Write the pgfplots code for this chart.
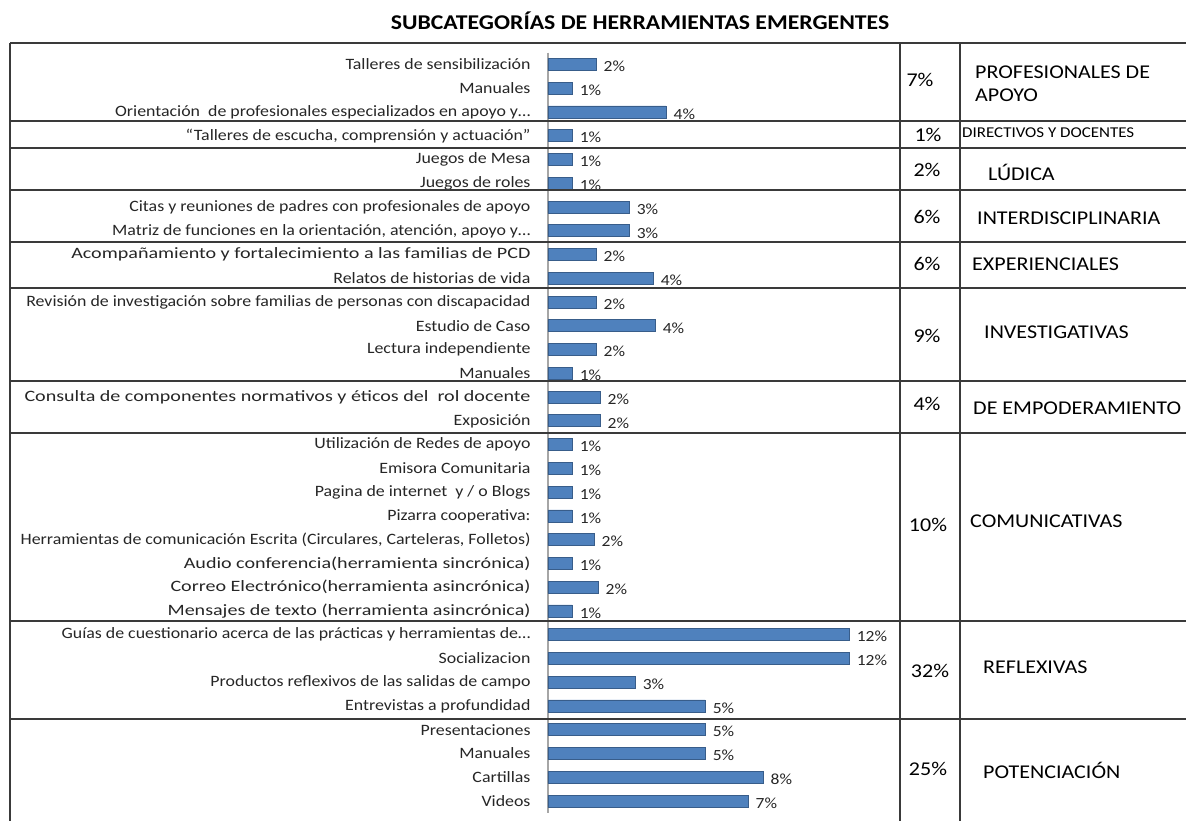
\documentclass[border=0pt]{standalone}
\usepackage{pgfplots}
\pgfplotsset{compat=1.18}
\usepackage{pgfplotstable}
\usepackage{fontspec}
\setmainfont{Carlito}[FakeStretch=1.13]
\newfontfamily\widefont[FakeStretch=1.27]{Carlito}
\definecolor{barblue}{HTML}{4F81BD}
\definecolor{baredge}{HTML}{385D8A}
\definecolor{txt}{HTML}{262626}
\definecolor{gridline}{HTML}{3A3A3A}

\pgfplotstableread{
idx len lab
0 1.91 2
1 0.96 1
2 4.70 4
3 0.96 1
4 0.96 1
5 0.96 1
6 3.23 3
7 3.23 3
8 1.91 2
9 4.19 4
10 1.91 2
11 4.27 4
12 1.91 2
13 0.96 1
14 2.07 2
15 2.07 2
16 0.96 1
17 0.96 1
18 0.96 1
19 0.96 1
20 1.83 2
21 0.96 1
22 1.99 2
23 0.96 1
24 12.00 12
25 12.00 12
26 3.47 3
27 6.26 5
28 6.26 5
29 6.26 5
30 8.57 8
31 7.97 7
}\datatable

\begin{document}
\begin{tikzpicture}[x=1pt,y=1pt]
\useasboundingbox (0,0) rectangle (1186,821);
% title
\node[font=\fontsize{21}{24}\selectfont\bfseries, text=black] at (640,800) {SUBCATEGORÍAS DE HERRAMIENTAS EMERGENTES};

\begin{axis}[
  at={(548pt,768.4pt)}, anchor=north west,
  scale only axis, width=351.2pt, height=760.3pt,
  xmin=0, xmax=14, ymin=-0.5, ymax=31.5, y dir=reverse,
  xbar, bar width=12pt, clip=false,
  axis x line=none, axis y line*=left,
  axis line style={draw=gray!70, line width=2pt},
  ytick={0,...,31}, major tick length=0pt,
  yticklabel style={font=\fontsize{15.8}{18}\selectfont, text=txt, xshift=-14pt},
  yticklabels={
    {Talleres de sensibilización},
    {Manuales},
    {Orientación\ \ de profesionales especializados en apoyo y…},
    {“Talleres de escucha, comprensión y actuación”},
    {Juegos de Mesa},
    {Juegos de roles},
    {Citas y reuniones de padres con profesionales de apoyo},
    {Matriz de funciones en la orientación, atención, apoyo y…},
    {\widefont Acompañamiento y fortalecimiento a las familias de PCD},
    {Relatos de historias de vida},
    {Revisión de investigación sobre familias de personas con discapacidad},
    {Estudio de Caso},
    {Lectura independiente},
    {Manuales},
    {\widefont Consulta de componentes normativos y éticos del\ \ rol docente},
    {Exposición},
    {Utilización de Redes de apoyo},
    {Emisora Comunitaria},
    {Pagina de internet\ \ y / o Blogs},
    {Pizarra cooperativa:},
    {Herramientas de comunicación Escrita (Circulares, Carteleras, Folletos)},
    {\widefont Audio conferencia(herramienta sincrónica)},
    {\widefont Correo Electrónico(herramienta asincrónica)},
    {\widefont Mensajes de texto (herramienta asincrónica)},
    {Guías de cuestionario acerca de las prácticas y herramientas de…},
    {Socializacion},
    {Productos reflexivos de las salidas de campo},
    {Entrevistas a profundidad},
    {Presentaciones},
    {Manuales},
    {Cartillas},
    {Videos}
  },
  nodes near coords={\pgfplotspointmeta\%},
  point meta=explicit symbolic,
  nodes near coords style={font=\fontsize{15.5}{18}\selectfont, text=txt, anchor=west, xshift=4pt, yshift=-2pt},
]
\addplot[fill=barblue, draw=baredge, line width=0.8pt] table[x=len, y=idx, meta=lab] {\datatable};
\end{axis}

% table lines
\begin{scope}[draw=gridline, line width=1.4pt]
\draw (10,778) -- (1186,778);
\foreach \yy in {700,673,631,579,533,440,388,200,102} {\draw (10,\yy) -- (1186,\yy);}
\draw (10,778) -- (10,0);
\draw (900,778) -- (900,0);
\draw (960,778) -- (960,0);
\end{scope}

% percent column
\begin{scope}[font=\fontsize{19.5}{22}\selectfont, text=black]
\node at (920,741) {7\%};
\node at (928,686) {1\%};
\node at (927,651) {2\%};
\node at (927,604) {6\%};
\node at (927,557) {6\%};
\node at (927,485) {9\%};
\node at (927,417) {4\%};
\node at (928,296) {10\%};
\node at (930,150) {32\%};
\node at (928,52) {25\%};
\end{scope}
\begin{scope}[font=\fontsize{19.5}{22}\selectfont, text=black]
\node[anchor=west, align=left, inner sep=0pt] at (975,737) {PROFESIONALES DE\\[1pt]APOYO};
\node[anchor=west, inner sep=0pt, font=\fontsize{15}{17}\selectfont] at (962,688) {DIRECTIVOS Y DOCENTES};
\node[anchor=west, inner sep=0pt] at (988,649) {LÚDICA};
\node[anchor=west, inner sep=0pt] at (977,603) {INTERDISCIPLINARIA};
\node[anchor=west, inner sep=0pt] at (972,557) {EXPERIENCIALES};
\node[anchor=west, inner sep=0pt] at (984,489) {INVESTIGATIVAS};
\node[anchor=west, inner sep=0pt] at (973,413) {DE EMPODERAMIENTO};
\node[anchor=west, inner sep=0pt] at (970,300) {COMUNICATIVAS};
\node[anchor=west, inner sep=0pt] at (983,154) {REFLEXIVAS};
\node[anchor=west, inner sep=0pt] at (983,51) {POTENCIACIÓN};
\end{scope}
\end{tikzpicture}
\end{document}
